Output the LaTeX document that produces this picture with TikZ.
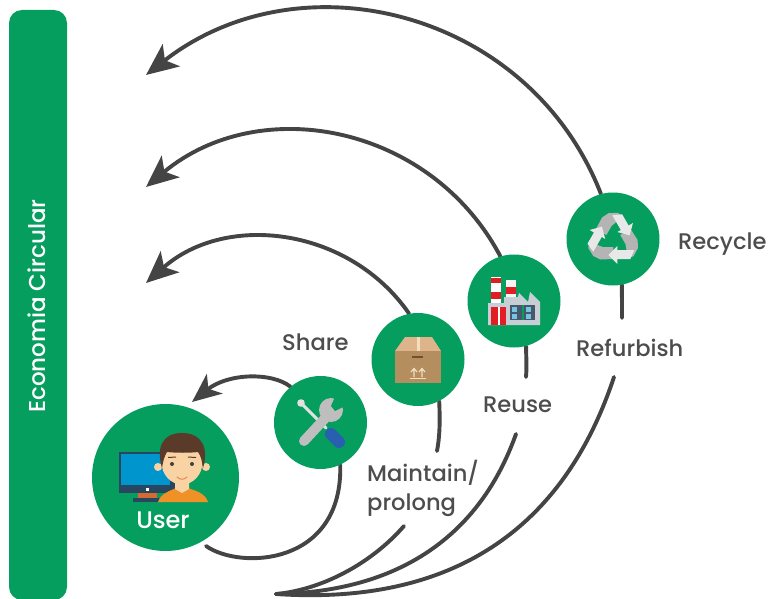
\documentclass[tikz,border=0pt]{standalone}
\usepackage{fontspec}
\setmainfont{Poppins}[UprightFont=* Medium]
\usetikzlibrary{arrows.meta,backgrounds}
\definecolor{brandgreen}{RGB}{6,158,95}
\definecolor{linegray}{RGB}{68,68,68}
\definecolor{labelgray}{RGB}{77,77,77}
\definecolor{scrblue}{RGB}{0,150,205}
\definecolor{navy}{RGB}{40,70,95}
\definecolor{skin}{RGB}{250,211,165}
\definecolor{hair}{RGB}{90,58,40}
\definecolor{shirt}{RGB}{240,145,40}
\definecolor{stand}{RGB}{215,105,50}
\definecolor{toolgray}{RGB}{190,190,190}
\definecolor{toollight}{RGB}{225,225,225}
\definecolor{handle}{RGB}{40,95,175}
\definecolor{lidtan}{RGB}{222,180,138}
\definecolor{boxtan}{RGB}{181,142,95}
\definecolor{boxpale}{RGB}{240,222,190}
\definecolor{boxdark}{RGB}{110,80,50}
\definecolor{factgray}{RGB}{200,206,214}
\definecolor{factred}{RGB}{225,30,35}
\definecolor{factwin}{RGB}{70,88,105}
\definecolor{recdark}{RGB}{180,180,180}
\definecolor{reclight}{RGB}{232,232,232}
\tikzset{
  x=1pt,y=-1pt,
  disc/.style={circle,fill=brandgreen,inner sep=0pt,minimum size=93pt},
  userdisc/.style={circle,fill=brandgreen,inner sep=0pt,minimum size=147pt},
  conn/.style={draw=linegray,line width=3.9pt,line cap=round},
  arrowconn/.style={conn,-{Stealth[length=32pt,width=28pt,inset=8pt,fill=linegray]}},
  smallarrowconn/.style={conn,-{Stealth[length=29pt,width=25pt,inset=8pt,fill=linegray]}},
  lbl/.style={anchor=base west,text=labelgray,font=\fontsize{22.6}{27}\selectfont,inner sep=0pt},
}
\begin{document}
\begin{tikzpicture}
\useasboundingbox (0,0) rectangle (769,599);
% bar
\node[fill=brandgreen,rounded corners=13pt,inner sep=0pt,minimum width=58pt,minimum height=590pt] (bar) at (38,305) {};
\node[rotate=90,text=white,font=\fontsize{23}{27}\selectfont,inner sep=0pt] (bartext) at (37,306) {Economia Circular};
% discs
\node[userdisc] (user) at (165.5,477.5) {};
\node[disc] (tools) at (320.5,422.5) {};
\node[disc] (box) at (418,359.5) {};
\node[disc] (factory) at (514,301) {};
\node[disc] (recycle) at (613,239) {};
% free ends
\coordinate (tipA) at (146,75);
\coordinate (tipB) at (146,187);
\coordinate (tipC) at (146,283);
\coordinate (tipD) at (192,402);
\coordinate (hub) at (276,594);
\coordinate (startU) at (206,546);
\coordinate (endL1) at (404,526);
\coordinate (endL2) at (516,434);
\coordinate (endL3) at (614,377);
\coordinate (stubR) at (622,318);
\coordinate (stubF) at (526,377);
\coordinate (stubB) at (437,451);
\begin{pgfonlayer}{background}
\draw[arrowconn] (recycle.105) .. controls (529.5,10.6) and (301,-46) .. (tipA);
\draw[arrowconn] (factory.107) .. controls (431,125) and (260,92) .. (tipB);
\draw[arrowconn] (box.101) .. controls (349.7,227.5) and (226.2,211.9) .. (tipC);
\draw[smallarrowconn] (tools.130) .. controls (272,372) and (228,373) .. (tipD);
\draw[conn] (startU) .. controls (240,570) and (343,566) .. (tools.-65);
\draw[conn] (recycle.-79) -- (stubR);
\draw[conn] (factory.-75) .. controls (526,355) and (527,365) .. (stubF);
\draw[conn] (box.-63) .. controls (440,420) and (440,435) .. (stubB);
\draw[conn] (hub) .. controls (320,590) and (370,565) .. (endL1);
\draw[conn] (hub) .. controls (400,592) and (480,535) .. (endL2);
\draw[conn] (hub) .. controls (440,605) and (560,540) .. (endL3);
\end{pgfonlayer}
% labels
\node[lbl] (lrecycle) at (678,249) {Recycle};
\node[lbl] (lrefurb) at (576,356) {Refurbish};
\node[lbl] (lshare) at (282,350) {Share};
\node[lbl] (lreuse) at (483,412) {Reuse};
\node[lbl] (lmaintain) at (367,481) {Maintain/};
\node[lbl] (lprolong) at (367,510) {prolong};
\node[text=white,font=\fontsize{24}{28}\selectfont,inner sep=0pt,anchor=base] (luser) at (163,528) {User};
% monitor
\fill[navy] (119,452) rectangle (175,493);
\fill[scrblue] (120.5,453.5) rectangle (170,485);
\fill[stand] (138,493) rectangle (157,498);
\fill[navy] (133,498) rectangle (160,502);
\fill[white] (146,487.5) rectangle (149,491);
% person
\fill[shirt] (158,502) .. controls (161,493) and (170,491) .. (176,488) -- (188,488) .. controls (196,491) and (205,493) .. (208,502) -- cycle;
\fill[skin] (175,478) -- (189,478) -- (189,489) -- (182,493) -- (175,489) -- cycle;
\fill[skin] (158,467) circle[radius=4];
\fill[skin] (206,467) circle[radius=4];
\fill[skin] (182,462) ellipse[x radius=20.5,y radius=22.5];
\fill[hair] (162,468) .. controls (156,448) and (162,433) .. (182,433) .. controls (202,433) and (209,448) .. (203,468) .. controls (202,461) and (201,456) .. (198,452) .. controls (190,453) and (176,453) .. (167,452) .. controls (164,457) and (163,462) .. (162,468) -- cycle;
\fill[black!75] (172,464) circle[radius=2];
\fill[black!75] (192,464) circle[radius=2];
\draw[hair,line width=1pt] (168,457.5) -- (176,457);
\draw[hair,line width=1pt] (188,457) -- (196,457.5);
\draw[stand!70!skin,line width=1pt,line cap=round] (177,477) .. controls (180,480) and (184,480) .. (187,477);
% tools
\draw[toollight,line width=3pt,line cap=round] (301,403) -- (326,428);
\fill[toollight] (301,403) circle[radius=3.8];
\draw[handle,line width=12pt,line cap=round] (331,434) -- (339,442);
\draw[toolgray,line width=10pt,line cap=round] (304,441) -- (330,413);
\fill[toolgray] (331,410) circle[radius=12];
\fill[brandgreen] (334,399) -- (331,406) -- (335,411) -- (343,407) -- (347,394) -- (336,392) -- cycle;
% box
\fill[lidtan] (405,337) -- (432,337) -- (441,351) -- (395,351) -- cycle;
\fill[boxtan] (395,351) rectangle (441,382.5);
\fill[boxpale] (417,337) rectangle (420,351);
\fill[boxdark] (412,356) rectangle (423,358);
\draw[boxpale,line width=1.2pt] (414,377) -- (414,369) (411,372) -- (414,368.5) -- (417,372);
\draw[boxpale,line width=1.2pt] (422,377) -- (422,369) (419,372) -- (422,368.5) -- (425,372);
\draw[boxpale,line width=1.2pt] (410,378.5) -- (426,378.5);
% factory
\fill[factgray] (488,325) -- (488,303) -- (516,303) -- (519,293) -- (528,302) -- (530,292) -- (540,302) -- (540,325) -- cycle;
\fill[white] (491,277) rectangle (501,303);
\fill[factred] (491,278) rectangle (501,283);
\fill[factred] (491,292) rectangle (501,299);
\fill[white!92!gray] (506,280) rectangle (516,303);
\fill[factred] (506,287) rectangle (516,294);
\fill[factgray] (504,297) rectangle (518,303);
\fill[factred] (491,307) rectangle (506,325);
\fill[white] (497.5,307) rectangle (499.5,325);
\fill[factwin] (510,305) rectangle (535,320);
\fill[scrblue!55!white] (511.5,307) rectangle (517,311.5);
\fill[scrblue!55!white] (511.5,314) rectangle (517,318.5);
\fill[scrblue!55!white] (526,307) rectangle (531,311.5);
\fill[scrblue!55!white] (526,314) rectangle (531,318.5);
\fill[brandgreen] (522,305) rectangle (523.5,320);
% recycle
\foreach \a in {0,120,240}{
\begin{scope}[shift={(613.3,239)},rotate=\a]
\fill[recdark] (-24,3) -- (-10.5,8) -- (0,8) -- (0,20) -- (-13,20.5) -- (-20,17) -- (-25,9) -- cycle;
\end{scope}}
\foreach \a in {0,120,240}{
\begin{scope}[shift={(613.3,239)},rotate=\a]
\fill[reclight] (-5,16) -- (4,7) -- (4,11) -- (21,11) -- (17,20) -- (4,20) -- (4,25) -- cycle;
\end{scope}}
\end{tikzpicture}
\end{document}
